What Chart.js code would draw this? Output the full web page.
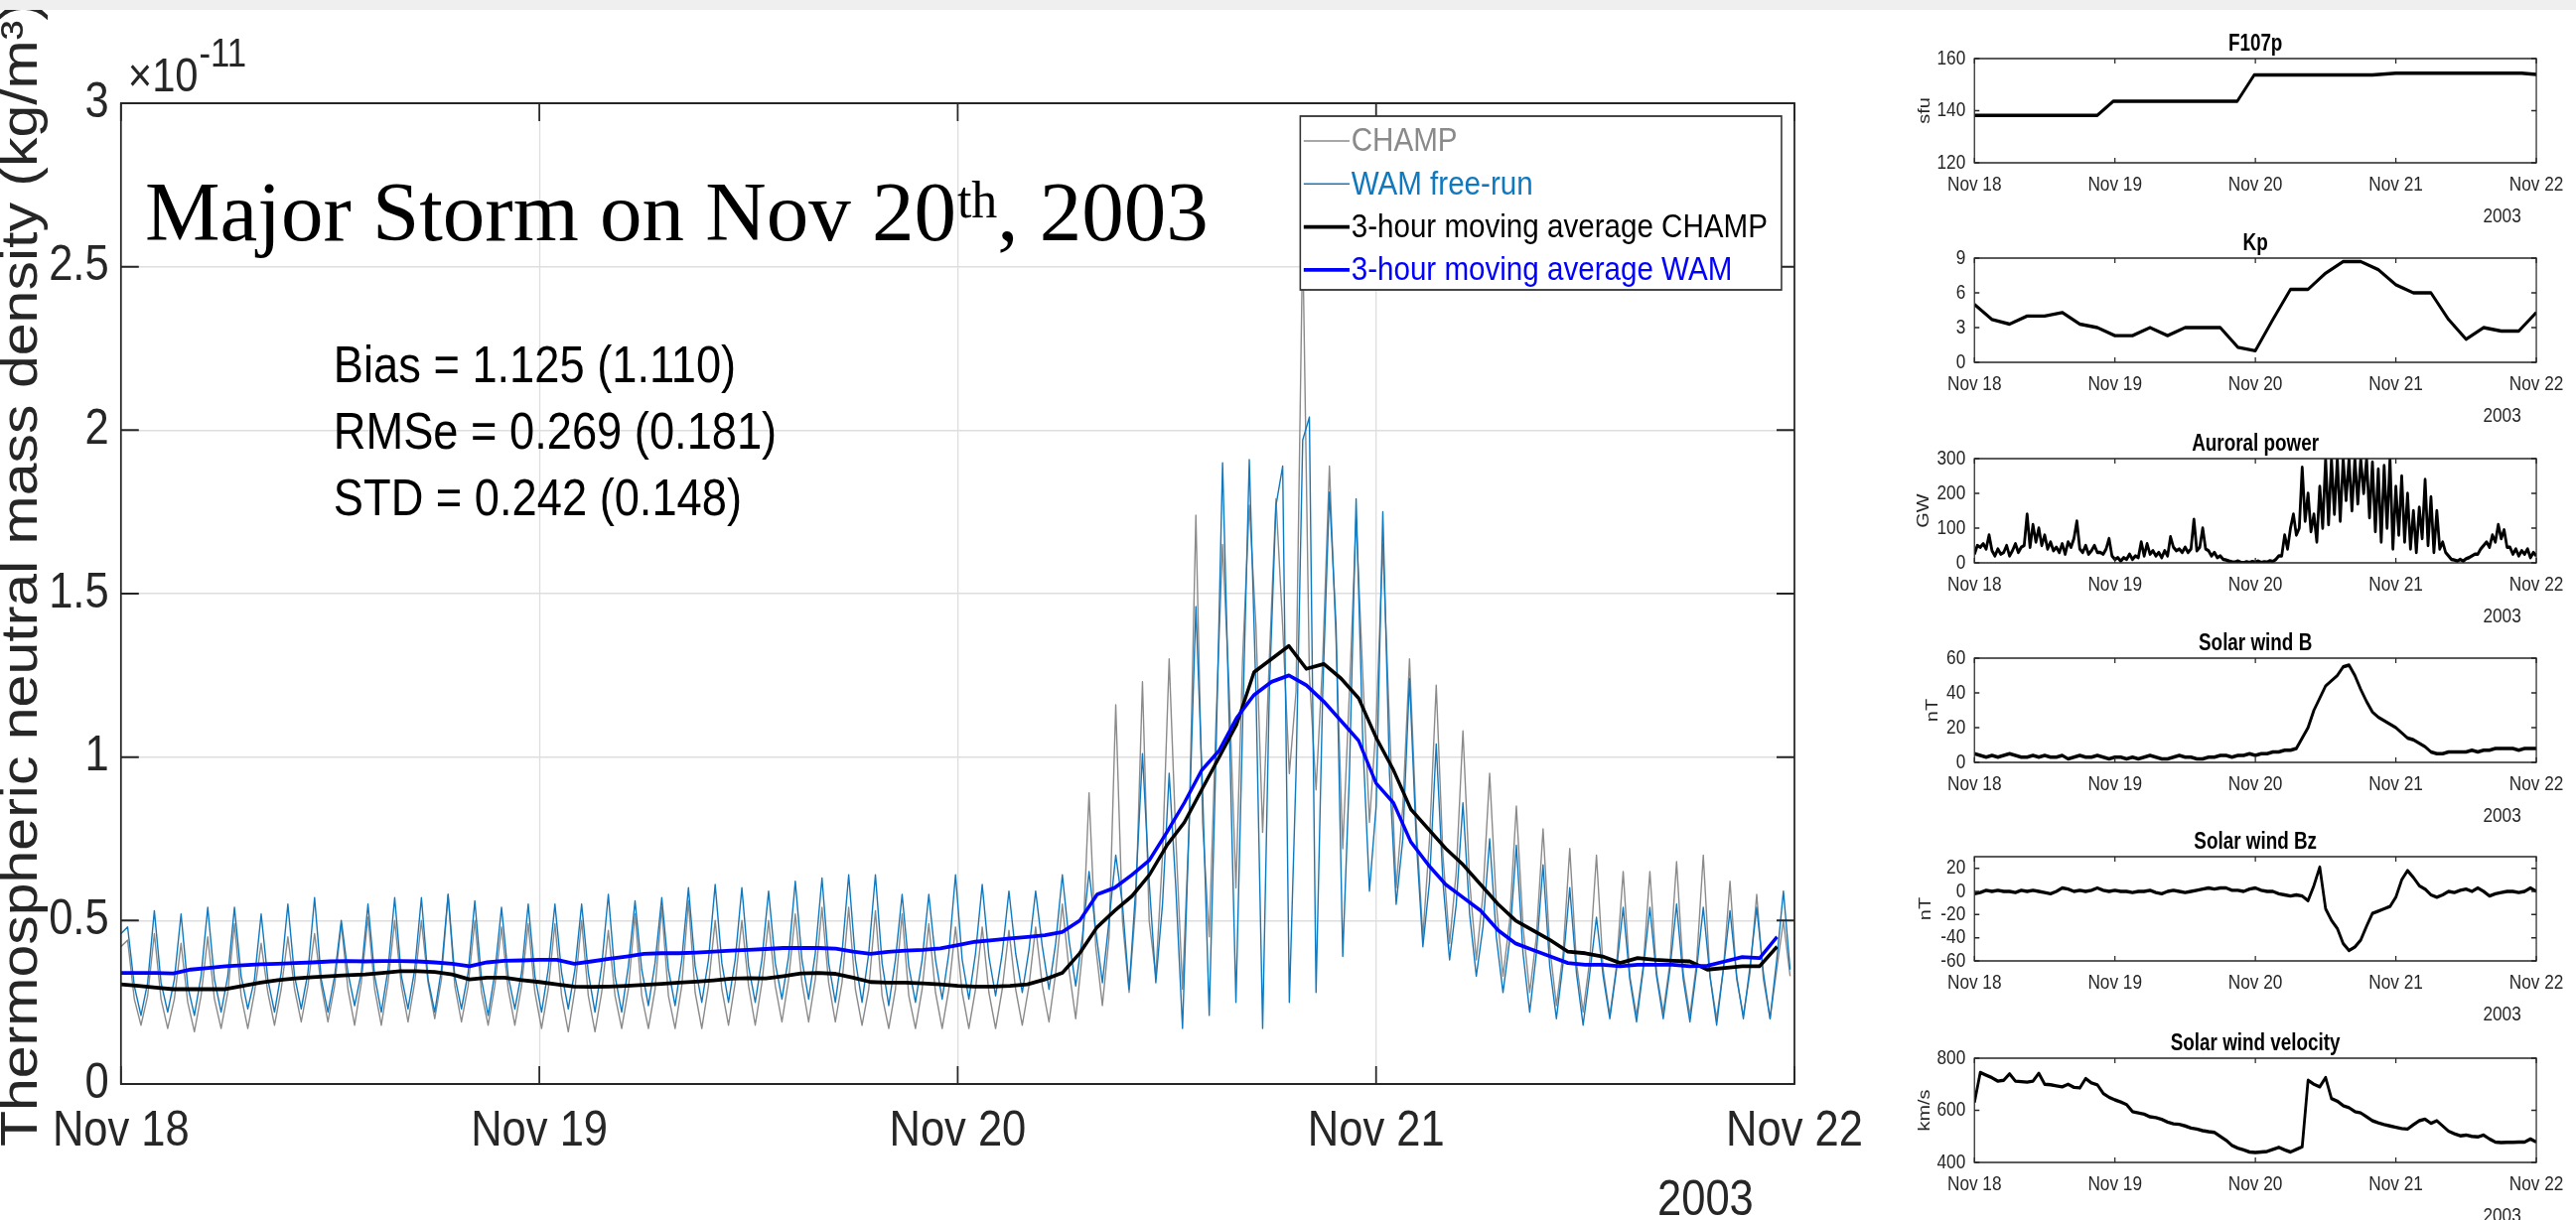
<!DOCTYPE html>
<html>
<head>
<meta charset="utf-8">
<script src="https://cdn.jsdelivr.net/npm/chart.js@4.4.1/dist/chart.umd.min.js"></script>
<style>
  html, body { margin: 0; padding: 0; background: #fff; overflow: hidden; }
  #page { position: relative; width: 2594px; height: 1229px; overflow: hidden; background: #fff; }
  canvas { position: absolute; }
  #strip { position: absolute; left: 0; top: 0; width: 2594px; height: 10px; background: #efefef; }
</style>
</head>
<body>
<div id="page">
  <canvas id="main" width="2180" height="1229" style="left:0;top:0"></canvas>
  <canvas id="f107" width="871" height="232" style="left:1880px;top:0px"></canvas>
  <canvas id="kp" width="871" height="232" style="left:1880px;top:201px"></canvas>
  <canvas id="ap" width="871" height="232" style="left:1880px;top:403px"></canvas>
  <canvas id="swb" width="871" height="232" style="left:1880px;top:604px"></canvas>
  <canvas id="swbz" width="871" height="232" style="left:1880px;top:804px"></canvas>
  <canvas id="swv" width="871" height="232" style="left:1880px;top:1007px"></canvas>
  <div id="strip"></div>
</div>
<script>
// --- Data (hours from Nov 18 00:00 UT, 2003) ---
const dayLabels = ['Nov 18', 'Nov 19', 'Nov 20', 'Nov 21', 'Nov 22'];
const xTicks = [0, 24, 48, 72, 96];
const yTicks = [0, 0.5, 1, 1.5, 2, 2.5, 3];

// along-track density, 4 samples per CHAMP orbit (~1.53 h), units 1e-11 kg/m^3
const orbitStep = 0.383;
const champ = [
  0.42,0.44,0.26,0.18, 0.27,0.46,0.26,0.17, 0.26,0.43,0.25,0.16, 0.27,0.45,0.26,0.17,
  0.28,0.49,0.27,0.17, 0.28,0.43,0.28,0.18, 0.29,0.45,0.29,0.19, 0.30,0.46,0.30,0.19,
  0.30,0.49,0.29,0.18, 0.31,0.51,0.29,0.18, 0.31,0.50,0.30,0.19, 0.31,0.50,0.31,0.20,
  0.32,0.58,0.30,0.19, 0.30,0.50,0.28,0.18, 0.30,0.48,0.29,0.18, 0.30,0.49,0.28,0.17,
  0.29,0.49,0.27,0.16, 0.29,0.50,0.27,0.16, 0.28,0.47,0.27,0.17, 0.29,0.52,0.27,0.17,
  0.29,0.54,0.27,0.17, 0.30,0.56,0.28,0.17, 0.30,0.50,0.29,0.18, 0.31,0.50,0.30,0.18,
  0.31,0.50,0.30,0.19, 0.32,0.52,0.31,0.19, 0.32,0.54,0.31,0.19, 0.31,0.54,0.29,0.18,
  0.29,0.53,0.27,0.17, 0.29,0.52,0.27,0.17, 0.29,0.49,0.28,0.17, 0.29,0.48,0.28,0.17,
  0.29,0.48,0.28,0.17, 0.29,0.47,0.29,0.18, 0.30,0.48,0.30,0.19, 0.34,0.55,0.35,0.20,
  0.40,0.89,0.42,0.24, 0.45,1.16,0.50,0.28, 0.55,1.23,0.50,0.33, 0.70,1.30,0.75,0.29,
  0.80,1.74,0.80,0.45, 1.10,1.65,1.20,0.60, 1.30,1.77,1.40,0.77, 1.30,1.79,1.40,0.95,
  1.20,2.59,1.25,0.90, 1.30,1.89,1.35,0.72, 1.20,1.73,1.25,0.80, 1.10,1.65,1.10,0.60,
  0.85,1.30,0.80,0.45, 0.75,1.22,0.70,0.43, 0.65,1.08,0.62,0.38, 0.58,0.95,0.55,0.33,
  0.50,0.85,0.48,0.28, 0.45,0.78,0.42,0.24, 0.40,0.72,0.37,0.22, 0.38,0.70,0.35,0.21,
  0.36,0.65,0.33,0.21, 0.36,0.65,0.34,0.22, 0.37,0.68,0.34,0.21, 0.37,0.70,0.33,0.20,
  0.35,0.62,0.32,0.21, 0.34,0.58,0.32,0.20, 0.35,0.50,0.33
];
const wam = [
  0.46,0.48,0.30,0.21, 0.31,0.53,0.31,0.22, 0.32,0.52,0.30,0.21, 0.33,0.54,0.32,0.22,
  0.33,0.54,0.33,0.23, 0.32,0.52,0.32,0.22, 0.34,0.55,0.33,0.23, 0.34,0.57,0.32,0.22,
  0.33,0.50,0.34,0.24, 0.34,0.55,0.33,0.22, 0.35,0.57,0.33,0.23, 0.35,0.57,0.32,0.22,
  0.35,0.58,0.33,0.23, 0.34,0.56,0.32,0.21, 0.34,0.54,0.33,0.23, 0.34,0.55,0.33,0.22,
  0.35,0.55,0.34,0.23, 0.35,0.55,0.34,0.22, 0.36,0.58,0.33,0.22, 0.36,0.56,0.35,0.24,
  0.37,0.57,0.35,0.24, 0.38,0.60,0.36,0.25, 0.38,0.61,0.37,0.25, 0.38,0.60,0.36,0.25,
  0.38,0.59,0.37,0.26, 0.39,0.62,0.38,0.26, 0.40,0.63,0.37,0.25, 0.40,0.64,0.38,0.25,
  0.40,0.64,0.37,0.24, 0.38,0.58,0.36,0.25, 0.38,0.58,0.38,0.26, 0.40,0.64,0.38,0.26,
  0.40,0.61,0.39,0.27, 0.40,0.59,0.40,0.28, 0.41,0.59,0.42,0.29, 0.43,0.64,0.44,0.30,
  0.45,0.65,0.47,0.31, 0.50,0.70,0.55,0.29, 0.60,1.01,0.62,0.31, 0.55,0.95,0.60,0.17,
  0.80,1.46,0.90,0.21, 1.00,1.90,1.10,0.25, 1.10,1.91,1.20,0.17, 1.20,1.77,1.89,0.25,
  0.95,1.97,2.04,0.28, 1.20,1.81,1.40,0.39, 0.95,1.79,1.05,0.59, 0.85,1.75,0.95,0.55,
  0.75,1.24,0.75,0.42, 0.62,1.04,0.62,0.38, 0.55,0.86,0.52,0.33, 0.48,0.75,0.45,0.28,
  0.44,0.73,0.40,0.22, 0.40,0.67,0.36,0.20, 0.37,0.60,0.34,0.18, 0.34,0.51,0.33,0.20,
  0.35,0.54,0.32,0.19, 0.35,0.54,0.33,0.20, 0.35,0.55,0.32,0.19, 0.35,0.54,0.33,0.18,
  0.35,0.53,0.33,0.20, 0.36,0.54,0.34,0.20, 0.38,0.59,0.35
];
// 3-hour moving averages, hourly
const champAvg = [
  0.305,0.30,0.295,0.29,0.29,0.29,0.29,0.30,0.31,0.318,0.323,0.327,0.33,0.333,0.335,0.34,
  0.345,0.345,0.343,0.335,0.32,0.325,0.325,0.318,0.312,0.305,0.298,0.297,0.298,0.30,0.303,0.306,
  0.31,0.313,0.317,0.322,0.324,0.323,0.33,0.338,0.34,0.337,0.325,0.312,0.31,0.31,0.308,0.305,
  0.30,0.298,0.298,0.30,0.305,0.32,0.34,0.40,0.48,0.53,0.575,0.64,0.73,0.80,0.90,1.00,
  1.10,1.26,1.30,1.34,1.27,1.285,1.24,1.18,1.06,0.96,0.84,0.78,0.72,0.67,0.61,0.55,
  0.50,0.47,0.44,0.405,0.40,0.39,0.37,0.385,0.38,0.377,0.375,0.35,0.355,0.36,0.36,0.42
];
const wamAvg = [
  0.34,0.34,0.34,0.338,0.35,0.355,0.36,0.363,0.366,0.368,0.37,0.372,0.375,0.376,0.375,0.376,
  0.376,0.375,0.372,0.368,0.36,0.372,0.377,0.378,0.38,0.38,0.368,0.375,0.383,0.39,0.398,0.40,
  0.40,0.402,0.405,0.408,0.41,0.413,0.416,0.416,0.416,0.414,0.405,0.398,0.404,0.408,0.41,0.415,
  0.425,0.435,0.44,0.445,0.45,0.455,0.465,0.50,0.58,0.60,0.64,0.685,0.77,0.86,0.96,1.02,
  1.12,1.19,1.23,1.25,1.22,1.17,1.11,1.05,0.92,0.86,0.74,0.67,0.61,0.57,0.53,0.47,
  0.43,0.41,0.39,0.37,0.365,0.365,0.36,0.365,0.365,0.365,0.36,0.362,0.375,0.388,0.385,0.45
];
const statLines = ['Bias = 1.125 (1.110)', 'RMSe = 0.269 (0.181)', 'STD = 0.242 (0.148)'];

// drivers
const f107Hours = [0, 21, 23.7, 44.9, 47.8, 68, 72, 93.5, 96];
const f107Values = [138.2, 138.2, 143.6, 143.6, 153.7, 153.7, 154.4, 154.4, 153.9];
const f107Ticks = [120, 140, 160];

const kpStep = 3;
const kpValues = [5.0,3.7,3.3,4.0,4.0,4.3,3.3,3.0,2.3,2.3,3.0,2.3,3.0,3.0,3.0,1.3,1.0,
                  3.7,6.3,6.3,7.7,8.7,8.7,8.0,6.7,6.0,6.0,3.7,2.0,3.0,2.7,2.7,4.3];
const kpTicks = [0, 3, 6, 9];

const apStep = 0.5;
const apValues = [
  25,50,45,55,40,80,35,20,40,25,30,50,20,35,55,30,45,50,140,45,110,60,100,50,
  80,40,60,35,45,30,55,25,60,45,70,120,40,30,50,25,35,50,30,30,25,40,70,20,
  10,15,5,15,10,25,10,20,15,60,20,55,25,35,20,30,15,35,20,75,45,35,40,30,
  45,30,40,125,35,45,100,40,35,20,30,15,20,10,8,5,3,2,5,2,0,3,1,4,
  2,5,1,3,2,6,4,10,20,20,80,40,100,140,80,100,275,120,200,90,140,60,220,100,
  300,110,300,140,300,120,300,180,300,150,300,170,300,200,300,130,290,90,270,60,280,100,300,40,
  220,80,250,60,200,40,150,30,160,70,240,50,190,30,150,40,60,30,20,10,8,5,10,5,
  12,15,20,25,25,40,50,60,45,80,60,110,70,95,45,45,25,40,20,35,25,40,15,30,
  20
];
const apTicks = [0, 100, 200, 300];

const hourStep = 1;
const bValues = [
  5,4,3,4,3,4,5,4,3,3, 4,3,4,3,3,4,2,3,4,3, 3,4,3,2,3,3,2,3,2,3, 4,3,2,2,3,4,3,3,2,2,
  3,3,4,4,3,4,4,5,4,5, 5,6,6,7,7,8,14,20,30,37, 44,47,50,55,56,50,42,35,29,26,
  24,22,20,17,14,13,11,9,6,5, 5,6,6,6,6,7,6,7,7,8, 8,8,8,7,8,8,8
];
const bTicks = [0, 20, 40, 60];

const bzValues = [
  -2,-1,1,0,1,0,0,-1,1,0, 1,0,-1,-2,0,3,2,0,1,0, 1,3,1,0,1,0,0,-1,0,0, 1,-1,-2,0,1,0,-1,0,1,2,
  3,2,3,3,1,1,0,2,3,1, 0,0,-2,-3,-4,-3,-4,-8,5,21, -15,-25,-32,-45,-51,-48,-42,-30,-19,-17,
  -15,-13,-5,10,18,12,5,2,-3,-5, -3,0,-1,1,2,0,3,0,-4,-2, -1,0,0,-1,0,3,0
];
const bzTicks = [-60, -40, -20, 0, 20];

const vValues = [
  630,745,735,725,712,715,740,712,710,708, 712,742,700,698,694,690,700,688,686,722,
  705,698,665,650,640,632,622,595,590,585, 575,572,565,555,548,546,540,532,528,522,
  518,515,500,485,465,455,448,440,438,440, 442,450,458,448,440,450,460,715,700,690,
  726,645,635,618,610,595,590,575,560,552, 545,540,535,530,528,545,560,566,550,560,
  540,520,510,502,505,500,498,505,490,478, 476,477,477,478,478,490,478
];
const vTicks = [400, 600, 800];

// --- Helpers ---
const series = (vals, step) => vals.map((v, i) => ({ x: i * step, y: v }));
const SANS = '"Liberation Sans", Arial, Helvetica, sans-serif';
const SERIF = '"Liberation Serif", "Times New Roman", serif';
const AXIS = '#262626';

// the original figure is horizontally compressed; draw everything through a squeeze
function drawBoxAndTicks(chart, sx, len, lw) {
  const ctx = chart.ctx;
  const { left, right, top, bottom } = chart.chartArea;
  const xs = chart.scales.x, ys = chart.scales.y;
  ctx.save();
  ctx.strokeStyle = AXIS;
  ctx.lineWidth = lw;
  ctx.beginPath();
  xs.ticks.forEach(t => {
    const px = xs.getPixelForValue(t.value);
    ctx.moveTo(px, bottom); ctx.lineTo(px, bottom - len);
    ctx.moveTo(px, top); ctx.lineTo(px, top + len);
  });
  ys.ticks.forEach(t => {
    const py = ys.getPixelForValue(t.value);
    ctx.moveTo(left, py); ctx.lineTo(left + len / sx, py);
    ctx.moveTo(right, py); ctx.lineTo(right - len / sx, py);
  });
  ctx.stroke();
  ctx.strokeRect(left, top, right - left, bottom - top);
  ctx.restore();
}

// --- Main density chart ---
const MAIN_SX = 0.87;
const mainPlugin = {
  id: 'mainExtras',
  beforeDraw(chart) { chart.ctx.save(); chart.ctx.scale(MAIN_SX, 1); },
  afterDraw(chart) {
    const ctx = chart.ctx;
    drawBoxAndTicks(chart, MAIN_SX, 18, 2);

    // y axis title
    ctx.save();
    ctx.translate(42, 578);
    ctx.rotate(-Math.PI / 2);
    ctx.font = '59px ' + SANS;
    ctx.fillStyle = AXIS;
    ctx.textAlign = 'center';
    ctx.fillText('Thermospheric neutral mass density (kg/m³)', 0, 0);
    ctx.restore();

    // exponent label
    ctx.save();
    ctx.fillStyle = AXIS;
    ctx.font = '48px ' + SANS;
    ctx.fillText('×10', 148, 92);
    const w10 = ctx.measureText('×10').width;
    ctx.font = '40px ' + SANS;
    ctx.fillText('-11', 148 + w10 + 1, 67);

    // statistics
    ctx.fillStyle = '#000';
    ctx.font = '52px ' + SANS;
    statLines.forEach((s, i) => ctx.fillText(s, 386, 385 + i * 67));

    // year under last tick
    ctx.fillStyle = AXIS;
    ctx.font = '50px ' + SANS;
    ctx.textAlign = 'center';
    ctx.fillText('2003', 1974, 1224);
    ctx.restore();

    // legend
    ctx.save();
    const bx = 1505, by = 117, bw = 557, bh = 175;
    ctx.fillStyle = '#fff';
    ctx.fillRect(bx, by, bw, bh);
    ctx.strokeStyle = '#333';
    ctx.lineWidth = 1.8;
    ctx.strokeRect(bx, by, bw, bh);
    ctx.font = '34px ' + SANS;
    ctx.textBaseline = 'middle';
    chart.data.datasets.forEach((ds, i) => {
      const cy = 142 + i * 43.3;
      ctx.strokeStyle = ds.borderColor;
      ctx.lineWidth = ds.borderWidth;
      ctx.beginPath(); ctx.moveTo(1509, cy); ctx.lineTo(1562, cy); ctx.stroke();
      ctx.fillStyle = ds.borderColor;
      ctx.fillText(ds.label, 1564, cy + 1);
    });
    ctx.restore();

    ctx.restore(); // end squeeze

    // storm title (not compressed)
    ctx.save();
    ctx.fillStyle = '#000';
    ctx.textBaseline = 'alphabetic';
    let tx = 146;
    ctx.font = '85px ' + SERIF;
    ctx.fillText('Major Storm on Nov 20', tx, 242);
    tx += ctx.measureText('Major Storm on Nov 20').width + 1;
    ctx.font = '52px ' + SERIF;
    ctx.fillText('th', tx, 219);
    tx += ctx.measureText('th').width;
    ctx.font = '85px ' + SERIF;
    ctx.fillText(', 2003', tx, 242);
    ctx.restore();
  }
};

const lineBase = { pointRadius: 0, tension: 0, fill: false, borderJoinStyle: 'round' };

new Chart(document.getElementById('main'), {
  type: 'line',
  data: {
    datasets: [
      { ...lineBase, label: 'CHAMP', data: series(champ, orbitStep), borderColor: '#8a8a8a', borderWidth: 1.6, order: 4 },
      { ...lineBase, label: 'WAM free-run', data: series(wam, orbitStep), borderColor: '#0f78bf', borderWidth: 1.6, order: 3 },
      { ...lineBase, label: '3-hour moving average CHAMP', data: series(champAvg, hourStep), borderColor: '#000000', borderWidth: 3.8, order: 2 },
      { ...lineBase, label: '3-hour moving average WAM', data: series(wamAvg, hourStep), borderColor: '#0000ff', borderWidth: 3.8, order: 1 }
    ]
  },
  options: {
    responsive: false,
    animation: false,
    layout: { padding: { top: 104, right: 103, left: 0, bottom: 0 } },
    plugins: { legend: { display: false }, tooltip: { enabled: false } },
    scales: {
      x: {
        type: 'linear', min: 0, max: 96,
        afterBuildTicks: s => { s.ticks = xTicks.map(v => ({ value: v })); },
        afterFit: s => { s.height = 137; },
        ticks: { callback: v => dayLabels[xTicks.indexOf(v)], color: AXIS, font: { family: SANS, size: 50 }, padding: 18, maxRotation: 0, autoSkip: false },
        grid: { color: '#dedede', lineWidth: 1.5, drawTicks: false },
        border: { display: false }
      },
      y: {
        type: 'linear', min: 0, max: 3,
        afterBuildTicks: s => { s.ticks = yTicks.map(v => ({ value: v })); },
        afterFit: s => { s.width = 140; },
        ticks: { callback: v => String(v), color: AXIS, font: { family: SANS, size: 50 }, padding: 14, autoSkip: false },
        grid: { color: '#dedede', lineWidth: 1.5, drawTicks: false },
        border: { display: false }
      }
    }
  },
  plugins: [mainPlugin]
});

// --- Driver panels ---
const PANEL_SX = 0.82;
const panelDefs = [
  { id: 'f107', title: 'F107p', unit: 'sfu', unitX: 77, min: 120, max: 160, ticks: f107Ticks,
    points: f107Hours.map((h, i) => ({ x: h, y: f107Values[i] })) },
  { id: 'kp', title: 'Kp', unit: '', unitX: 77, min: 0, max: 9, ticks: kpTicks, points: series(kpValues, kpStep) },
  { id: 'ap', title: 'Auroral power', unit: 'GW', unitX: 76, min: 0, max: 300, ticks: apTicks, points: series(apValues, apStep) },
  { id: 'swb', title: 'Solar wind B', unit: 'nT', unitX: 87, min: 0, max: 60, ticks: bTicks, points: series(bValues, hourStep) },
  { id: 'swbz', title: 'Solar wind Bz', unit: 'nT', unitX: 78, min: -60, max: 30, ticks: bzTicks, points: series(bzValues, hourStep) },
  { id: 'swv', title: 'Solar wind velocity', unit: 'km/s', unitX: 77, min: 400, max: 800, ticks: vTicks, points: series(vValues, hourStep) }
];

panelDefs.forEach(p => {
  const plugin = {
    id: 'panelExtras',
    beforeDraw(chart) { chart.ctx.save(); chart.ctx.scale(PANEL_SX, 1); },
    afterDraw(chart) {
      const ctx = chart.ctx;
      const { left, right, top, bottom } = chart.chartArea;
      drawBoxAndTicks(chart, PANEL_SX, 5, 1.5);
      ctx.save();
      ctx.fillStyle = '#000';
      ctx.textAlign = 'center';
      ctx.font = 'bold 23px ' + SANS;
      ctx.fillText(p.title, (left + right) / 2, 51);
      ctx.fillStyle = AXIS;
      ctx.font = '21px ' + SANS;
      ctx.fillText('2003', 780, 224);
      if (p.unit) {
        ctx.translate(p.unitX, (top + bottom) / 2);
        ctx.rotate(-Math.PI / 2);
        ctx.font = '20px ' + SANS;
        ctx.fillText(p.unit, 0, 0);
      }
      ctx.restore();
      ctx.restore(); // end squeeze
    }
  };
  new Chart(document.getElementById(p.id), {
    type: 'line',
    data: { datasets: [{ ...lineBase, label: p.title, data: p.points, borderColor: '#000', borderWidth: 3.4 }] },
    options: {
      responsive: false,
      animation: false,
      layout: { padding: { top: 59, right: 49, left: 0, bottom: 0 } },
      plugins: { legend: { display: false }, tooltip: { enabled: false } },
      scales: {
        x: {
          type: 'linear', min: 0, max: 96,
          afterBuildTicks: s => { s.ticks = xTicks.map(v => ({ value: v })); },
          afterFit: s => { s.height = 232 - 164; },
          ticks: { callback: v => dayLabels[xTicks.indexOf(v)], color: AXIS, font: { family: SANS, size: 21 }, padding: 10, maxRotation: 0, autoSkip: false },
          grid: { display: false, drawTicks: false },
          border: { display: false }
        },
        y: {
          type: 'linear', min: p.min, max: p.max,
          afterBuildTicks: s => { s.ticks = p.ticks.map(v => ({ value: v })); },
          afterFit: s => { s.width = 132; },
          ticks: { callback: v => String(v), color: AXIS, font: { family: SANS, size: 21 }, padding: 11, autoSkip: false },
          grid: { display: false, drawTicks: false },
          border: { display: false }
        }
      }
    },
    plugins: [plugin]
  });
});
</script>
</body>
</html>
